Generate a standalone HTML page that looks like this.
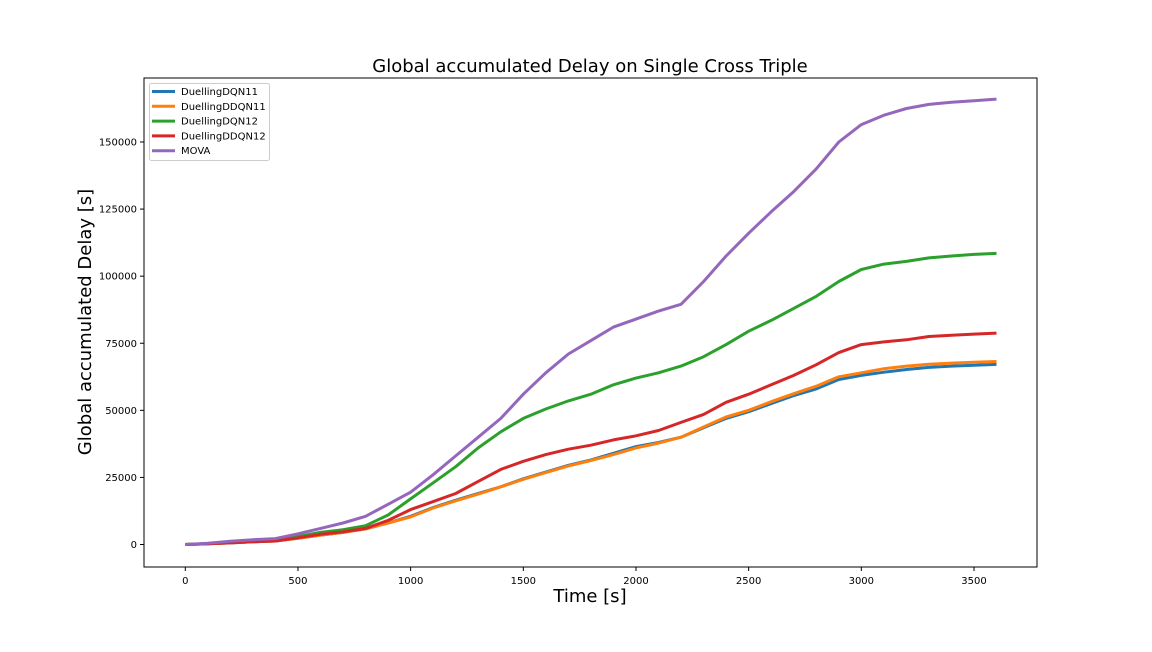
<!DOCTYPE html>
<html><head><meta charset="utf-8"><style>
body{margin:0;background:#fff;font-family:"DejaVu Sans","Liberation Sans",sans-serif}
svg text{font-family:"DejaVu Sans","Liberation Sans",sans-serif}
</style></head><body>
<svg id="chart" width="1152" height="648" xmlns="http://www.w3.org/2000/svg"></svg>
<script>
const times=[0,100,200,300,400,500,600,700,800,900,1000,1100,1200,1300,1400,1500,1600,1700,1800,1900,2000,2100,2200,2300,2400,2500,2600,2700,2800,2900,3000,3100,3200,3300,3400,3500,3600];
const dqn11=[0,300,600,1000,1300,2300,3500,4500,5800,8000,10500,13800,16500,19000,21500,24500,27000,29500,31500,34000,36500,38000,40000,43500,47000,49500,52500,55500,58000,61500,63000,64200,65200,66000,66500,66800,67100];
const ddqn11=[0,300,600,1000,1300,2300,3500,4500,5800,8000,10300,13600,16300,18800,21500,24300,26800,29300,31300,33500,36000,37800,40000,43800,47500,50000,53200,56200,59000,62500,64000,65500,66500,67200,67600,67900,68200];
const dqn12=[0,300,700,1100,1500,3000,4500,5500,7000,11000,17000,23000,29000,36000,42000,47000,50500,53500,56000,59500,62000,64000,66500,70000,74500,79500,83500,88000,92500,98000,102500,104500,105500,106800,107500,108100,108500];
const ddqn12=[0,300,600,1000,1300,2500,3800,4700,6000,9000,13000,16000,19000,23500,28000,31000,33500,35500,37000,39000,40500,42500,45500,48500,53000,56000,59500,63000,67000,71500,74500,75500,76300,77500,78000,78400,78800];
const mova=[0,500,1200,1800,2200,4000,6000,8000,10500,15000,19500,26000,33000,40000,47000,56000,64000,71000,76000,81000,84000,87000,89500,98000,107500,116000,124000,131500,140000,150000,156500,160000,162500,164000,164800,165400,166000];
const seriesNames=["DuellingDQN11","DuellingDDQN11","DuellingDQN12","DuellingDDQN12","MOVA"];
const seriesData=[dqn11,ddqn11,dqn12,ddqn12,mova];
const colors=["#1f77b4","#ff7f0e","#2ca02c","#d62728","#9467bd"];
const xTicks=[0,500,1000,1500,2000,2500,3000,3500];
const yTicks=[0,25000,50000,75000,100000,125000,150000];

const svg=document.getElementById('chart');
const NS="http://www.w3.org/2000/svg";
const L=144,R=1037,T=78,B=567;
const xs=v=>185.3+v*112.67/500;
const ys=v=>544.5-v*(544.5-142)/150000;
function mk(tag,attrs,parent){const e=document.createElementNS(NS,tag);for(const k in attrs)e.setAttribute(k,attrs[k]);(parent||svg).appendChild(e);return e;}

const frame=mk('rect',{x:L,y:T,width:R-L,height:B-T,fill:'none',stroke:'#000','stroke-width':1});



xTicks.forEach(v=>{
  const g=mk('g',{});
  
  
  mk('line',{x1:xs(v),x2:xs(v),y1:B,y2:B+4,stroke:'#000'},g);
  const t=mk('text',{x:xs(v),y:B+17,'font-size':10,'text-anchor':'middle'},g);t.textContent=v;
});
yTicks.forEach(v=>{
  const g=mk('g',{});
  
  
  mk('line',{x1:L-4,x2:L,y1:ys(v),y2:ys(v),stroke:'#000'},g);
  const t=mk('text',{x:L-7,y:ys(v)+3.5,'font-size':10,'text-anchor':'end'},g);t.textContent=v;
});

seriesData.forEach((d,i)=>{
  const p=mk('path',{d:d.map((v,j)=>(j?'L':'M')+xs(times[j]).toFixed(1)+','+ys(v).toFixed(1)).join(''),fill:'none',stroke:colors[i],'stroke-width':3,'stroke-linejoin':'round'});
  
  
});

const title=mk('text',{x:590,y:72,'font-size':18,'text-anchor':'middle'});title.textContent='Global accumulated Delay on Single Cross Triple';


const xl=mk('text',{x:590,y:602,'font-size':18,'text-anchor':'middle'});xl.textContent='Time [s]';


const yl=mk('text',{x:91,y:322,'font-size':18,'text-anchor':'middle',transform:'rotate(-90 91 322)'});yl.textContent='Global accumulated Delay [s]';



const lg=mk('g',{});


mk('rect',{x:149.5,y:83.5,width:120,height:77,rx:2,fill:'#fff',stroke:'#ccc'},lg);
seriesNames.forEach((n,i)=>{
  const g=mk('g',{},lg);
  
  
  const y=91.5+i*14.8;
  mk('line',{x1:152,x2:175,y1:y,y2:y,stroke:colors[i],'stroke-width':3},g);
  const t=mk('text',{x:181,y:y+3.5,'font-size':10},g);t.textContent=n;
});
</script>
</body></html>
